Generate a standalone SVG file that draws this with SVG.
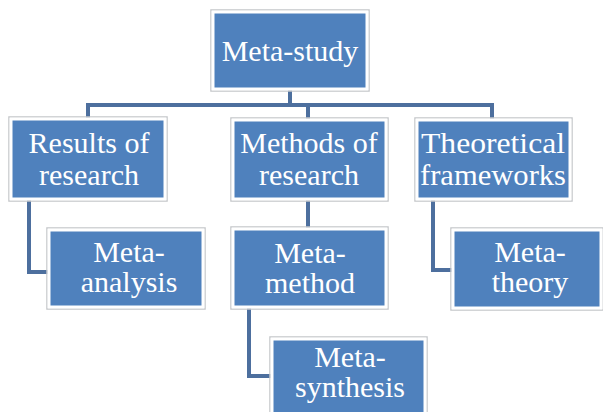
<svg xmlns="http://www.w3.org/2000/svg" width="603" height="412" viewBox="0 0 603 412">
<defs>
<style>
.halo{fill:none;stroke:#c4c6c9;stroke-width:1.5}
.box{fill:#4F81BD;stroke:#ffffff;stroke-width:3}
.c{fill:none;stroke:#4D6F9E;stroke-width:4;stroke-linejoin:miter}
</style>
</defs>
<rect width="603" height="412" fill="#ffffff"/>
<g id="connectors">
<path class="c" d="M290 89V105M88 119V105H492V120M308 105V120"/>
<path class="c" d="M29 199V272H49"/>
<path class="c" d="M308 199V229"/>
<path class="c" d="M249 308V376H272"/>
<path class="c" d="M433 199V270H453"/>
</g>
<g id="meta-study">
<rect class="halo" x="211" y="10" width="158" height="81"/>
<rect class="box" x="213" y="12" width="154" height="77"/>
<text font-family="Liberation Serif" font-size="30" fill="#ffffff" text-anchor="middle" x="290" y="61">Meta-study</text>
</g>
<g id="results">
<rect class="halo" x="9" y="117" width="158" height="84"/>
<rect class="box" x="11" y="119" width="154" height="80"/>
<text font-family="Liberation Serif" font-size="30" fill="#ffffff" text-anchor="middle" x="89" y="153">Results of</text>
<text font-family="Liberation Serif" font-size="30" fill="#ffffff" text-anchor="middle" x="89" y="185">research</text>
</g>
<g id="methods">
<rect class="halo" x="231" y="118" width="157" height="83"/>
<rect class="box" x="233" y="120" width="153" height="79"/>
<text font-family="Liberation Serif" font-size="30" fill="#ffffff" text-anchor="middle" x="309" y="153">Methods of</text>
<text font-family="Liberation Serif" font-size="30" fill="#ffffff" text-anchor="middle" x="309" y="185">research</text>
</g>
<g id="theoretical">
<rect class="halo" x="415" y="118" width="157" height="83"/>
<rect class="box" x="417" y="120" width="153" height="79"/>
<text font-family="Liberation Serif" font-size="30" fill="#ffffff" text-anchor="middle" x="493" y="153" textLength="144" lengthAdjust="spacingAndGlyphs">Theoretical</text>
<text font-family="Liberation Serif" font-size="30" fill="#ffffff" text-anchor="middle" x="493" y="185" textLength="146" lengthAdjust="spacingAndGlyphs">frameworks</text>
</g>
<g id="meta-analysis">
<rect class="halo" x="47" y="228" width="158" height="81"/>
<rect class="box" x="49" y="230" width="154" height="77"/>
<text font-family="Liberation Serif" font-size="30" fill="#ffffff" text-anchor="middle" x="129" y="262">Meta-</text>
<text font-family="Liberation Serif" font-size="30" fill="#ffffff" text-anchor="middle" x="129" y="292">analysis</text>
</g>
<g id="meta-method">
<rect class="halo" x="231" y="227" width="157" height="82"/>
<rect class="box" x="233" y="229" width="153" height="78"/>
<text font-family="Liberation Serif" font-size="30" fill="#ffffff" text-anchor="middle" x="310" y="263">Meta-</text>
<text font-family="Liberation Serif" font-size="30" fill="#ffffff" text-anchor="middle" x="310" y="293">method</text>
</g>
<g id="meta-synthesis">
<rect class="halo" x="270" y="337" width="157" height="82"/>
<rect class="box" x="272" y="339" width="153" height="78"/>
<text font-family="Liberation Serif" font-size="30" fill="#ffffff" text-anchor="middle" x="350" y="367">Meta-</text>
<text font-family="Liberation Serif" font-size="30" fill="#ffffff" text-anchor="middle" x="350" y="397">synthesis</text>
</g>
<g id="meta-theory">
<rect class="halo" x="451" y="228" width="152" height="82"/>
<rect class="box" x="453" y="230" width="148" height="78"/>
<text font-family="Liberation Serif" font-size="30" fill="#ffffff" text-anchor="middle" x="530" y="262">Meta-</text>
<text font-family="Liberation Serif" font-size="30" fill="#ffffff" text-anchor="middle" x="530" y="292">theory</text>
</g>
</svg>
